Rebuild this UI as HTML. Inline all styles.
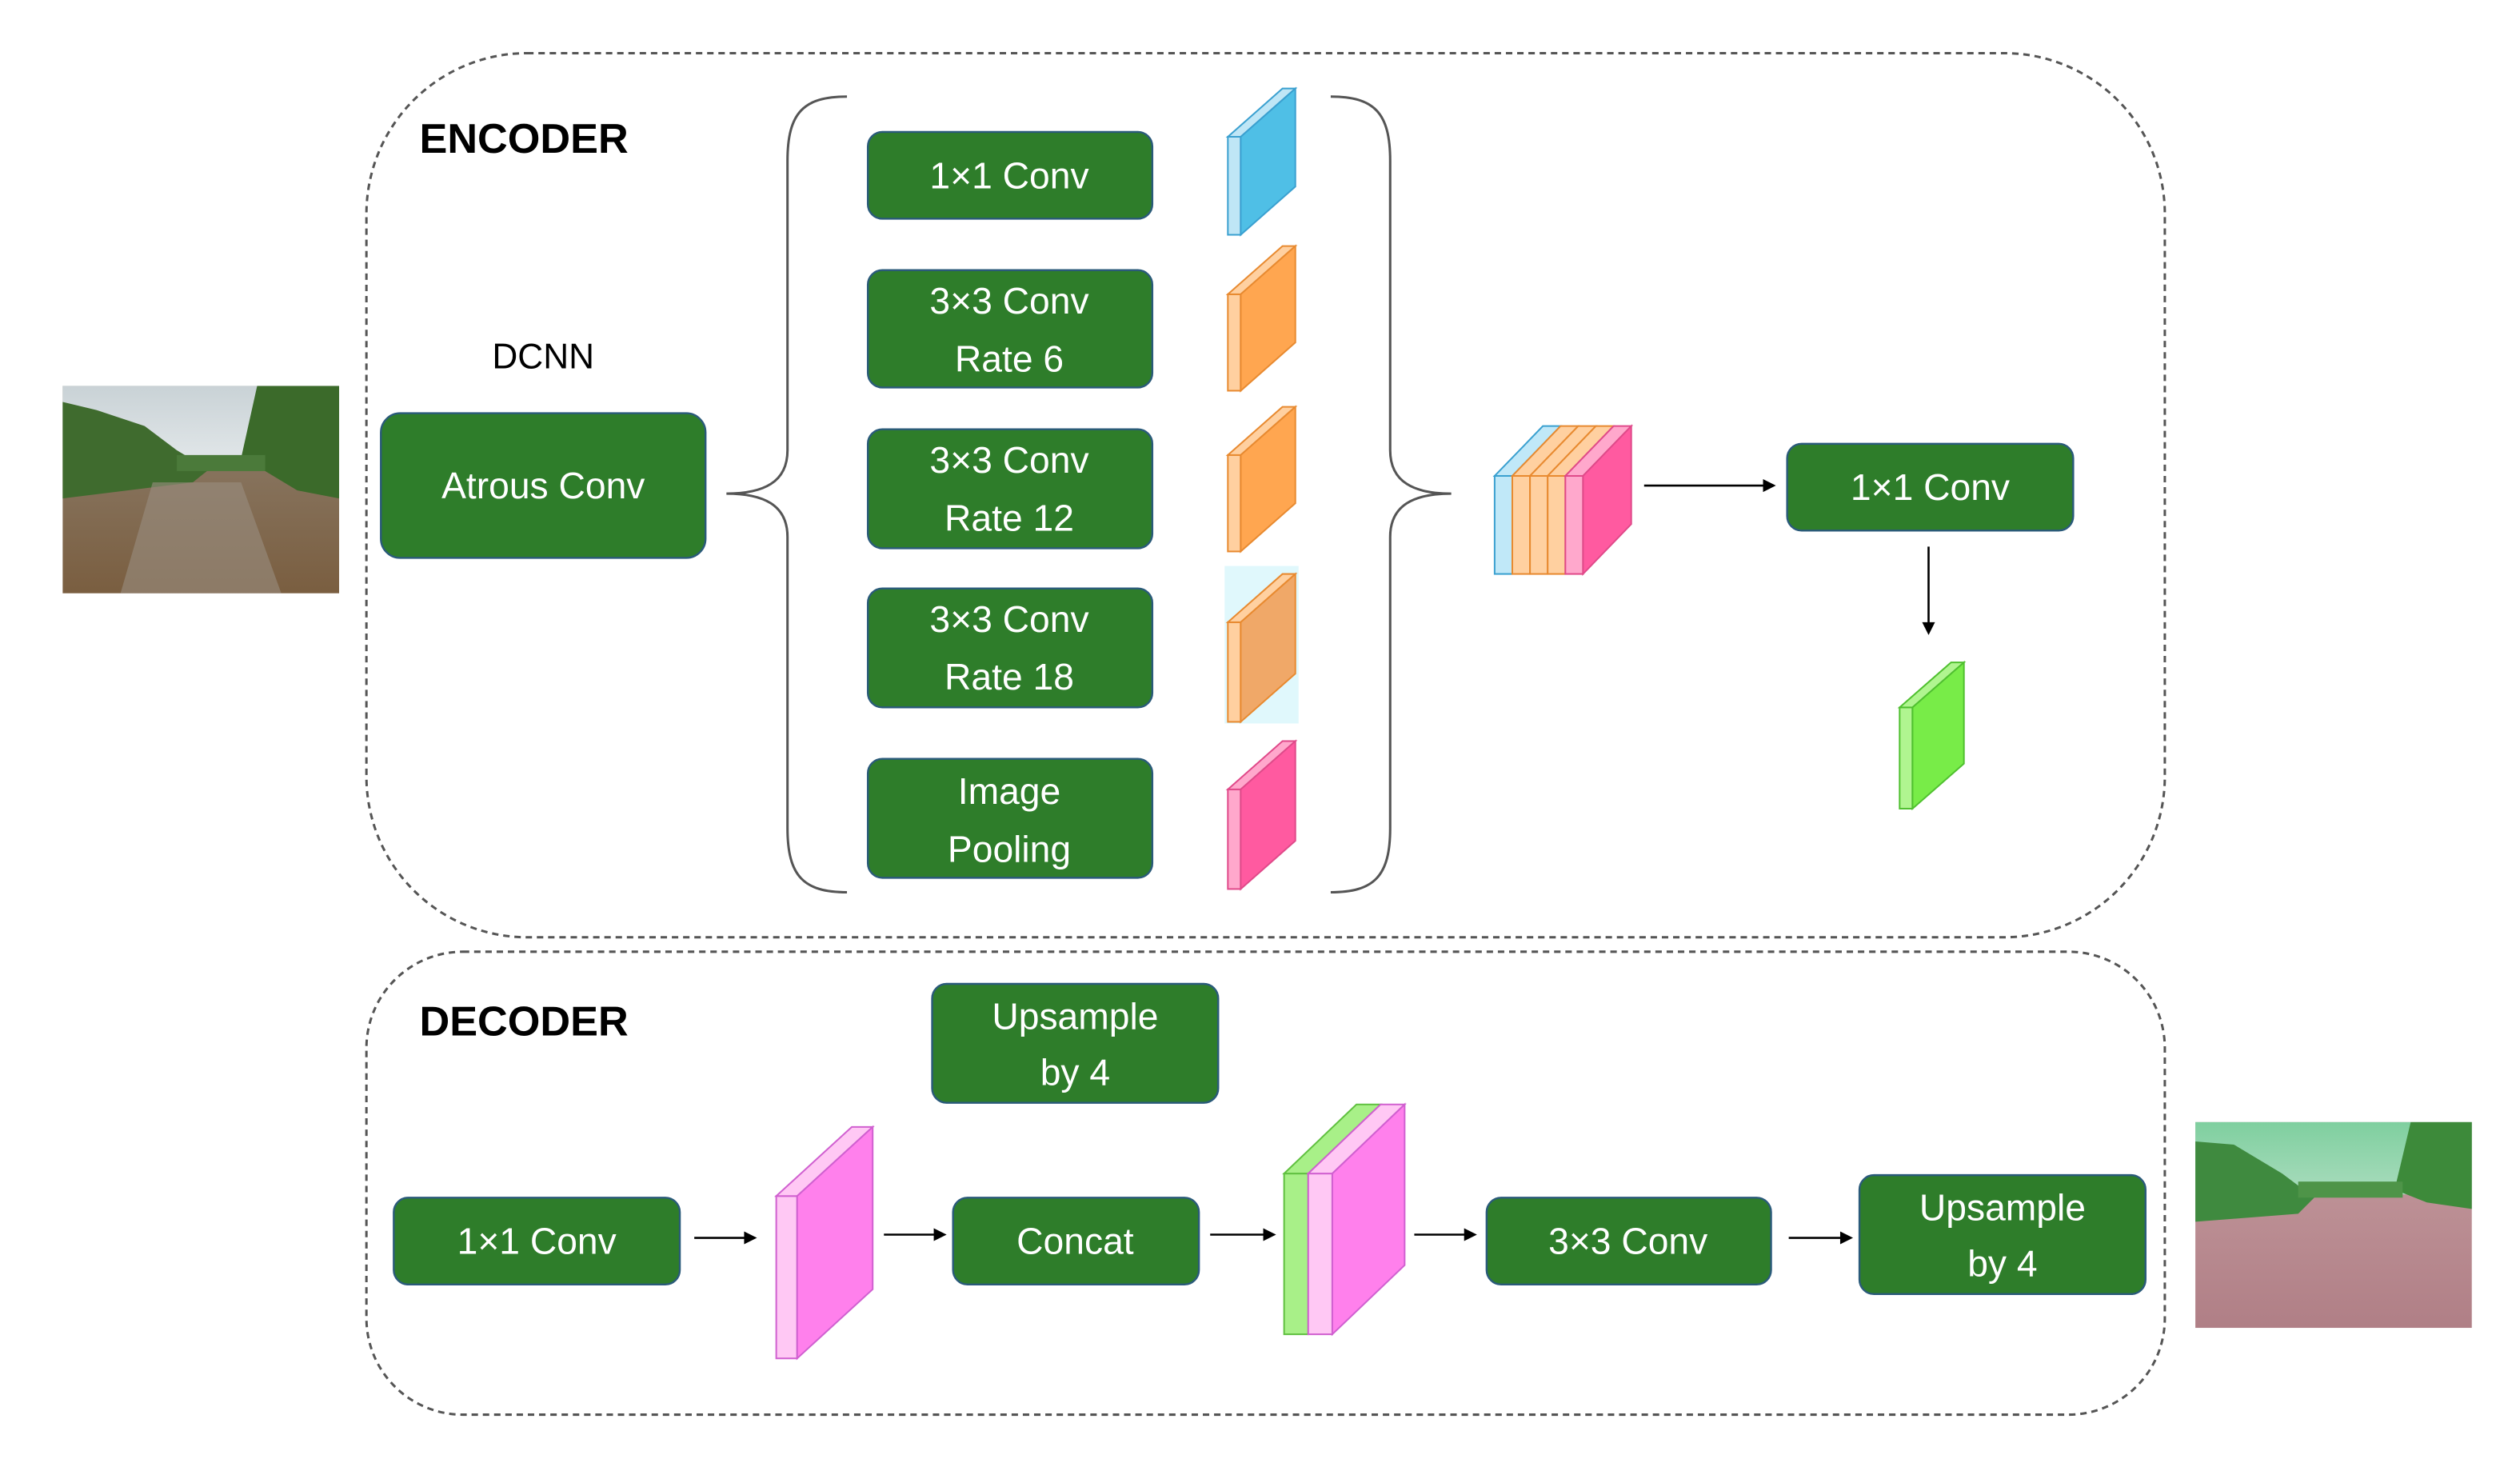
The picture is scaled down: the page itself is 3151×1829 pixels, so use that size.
<!DOCTYPE html>
<html><head><meta charset="utf-8"><style>html,body{margin:0;padding:0;background:#fff}svg{display:block}</style></head>
<body>
<svg width="3151" height="1829" viewBox="0 0 1568 910" xmlns="http://www.w3.org/2000/svg" font-family="Liberation Sans, sans-serif">
<defs>
<linearGradient id="sky" x1="0" y1="0" x2="0" y2="1"><stop offset="0" stop-color="#c9d2d6"/><stop offset="1" stop-color="#e3e8ea"/></linearGradient>
<linearGradient id="water" x1="0" y1="0" x2="0" y2="1"><stop offset="0" stop-color="#8f8170"/><stop offset="1" stop-color="#7a5e40"/></linearGradient>
<linearGradient id="water2" x1="0" y1="0" x2="0" y2="1"><stop offset="0" stop-color="#c49a9e"/><stop offset="1" stop-color="#b07f86"/></linearGradient>
<linearGradient id="sky2" x1="0" y1="0" x2="0" y2="1"><stop offset="0" stop-color="#7fcf9f"/><stop offset="1" stop-color="#a9dcbd"/></linearGradient>
</defs>
<rect width="1568" height="910" fill="#fff"/>
<!-- dashed containers -->
<rect x="228" y="33" width="1119" height="550" rx="100" fill="none" stroke="#555" stroke-width="1.5" stroke-dasharray="4,3"/>
<rect x="228" y="592" width="1119" height="288" rx="60" fill="none" stroke="#555" stroke-width="1.5" stroke-dasharray="4,3"/>
<text x="261" y="95" font-size="26" font-weight="bold" fill="#000">ENCODER</text>
<text x="261" y="644" font-size="26" font-weight="bold" fill="#000">DECODER</text>
<text x="338" y="229" font-size="22" text-anchor="middle" fill="#000">DCNN</text>

<!-- input image -->
<g>
<rect x="39" y="240" width="172" height="129" fill="url(#water)"/>
<rect x="39" y="240" width="172" height="50" fill="url(#sky)"/>
<polygon points="39,250 60,255 90,265 110,280 130,292 120,300 39,310" fill="#3f6b2e"/>
<polygon points="160,240 211,240 211,310 185,305 160,290 150,285" fill="#3b6a2a"/>
<rect x="110" y="283" width="55" height="10" fill="#4b7a3a"/>
<polygon points="95,300 150,300 175,369 75,369" fill="#9a8e80" opacity="0.6"/>
</g>
<!-- output image -->
<g>
<rect x="1366" y="698" width="172" height="128" fill="url(#water2)"/>
<rect x="1366" y="698" width="172" height="45" fill="url(#sky2)"/>
<polygon points="1366,710 1390,712 1420,730 1440,745 1430,755 1366,760" fill="#3f8a3f"/>
<polygon points="1500,698 1538,698 1538,752 1510,748 1490,740" fill="#3d8a3a"/>
<rect x="1430" y="735" width="65" height="10" fill="#4e9448"/>
</g>

<!-- green boxes -->
<g fill="#2e7d2a" stroke="#2a5a7a" stroke-width="1.2">
<rect x="237" y="257" width="202" height="90" rx="12"/>
<rect x="540" y="82" width="177" height="54" rx="9"/>
<rect x="540" y="168" width="177" height="73" rx="9"/>
<rect x="540" y="267" width="177" height="74" rx="9"/>
<rect x="540" y="366" width="177" height="74" rx="9"/>
<rect x="540" y="472" width="177" height="74" rx="9"/>
<rect x="1112" y="276" width="178" height="54" rx="9"/>
<rect x="580" y="612" width="178" height="74" rx="9"/>
<rect x="245" y="745" width="178" height="54" rx="9"/>
<rect x="593" y="745" width="153" height="54" rx="9"/>
<rect x="925" y="745" width="177" height="54" rx="9"/>
<rect x="1157" y="731" width="178" height="74" rx="9"/>
</g>
<g fill="#fff" font-size="23" text-anchor="middle">
<text x="338" y="310">Atrous Conv</text>
<text x="628" y="117">1×1 Conv</text>
<text x="628" y="195">3×3 Conv</text>
<text x="628" y="231">Rate 6</text>
<text x="628" y="294">3×3 Conv</text>
<text x="628" y="330">Rate 12</text>
<text x="628" y="393">3×3 Conv</text>
<text x="628" y="429">Rate 18</text>
<text x="628" y="500">Image</text>
<text x="628" y="536">Pooling</text>
<text x="1201" y="311">1×1 Conv</text>
<text x="669" y="640">Upsample</text>
<text x="669" y="675">by 4</text>
<text x="334" y="780">1×1 Conv</text>
<text x="669" y="780">Concat</text>
<text x="1013" y="780">3×3 Conv</text>
<text x="1246" y="759">Upsample</text>
<text x="1246" y="794">by 4</text>
</g>

<!-- braces -->
<path d="M527,60 C500,60 490,70 490,100 L490,280 C490,300 475,307 452,307 C475,307 490,314 490,334 L490,515 C490,545 500,555 527,555" fill="none" stroke="#555" stroke-width="1.5"/>
<path d="M828,60 C855,60 865,70 865,100 L865,280 C865,300 880,307 903,307 C880,307 865,314 865,334 L865,515 C865,545 855,555 828,555" fill="none" stroke="#555" stroke-width="1.5"/>

<!-- slabs: front strip, top, side -->
<g stroke-width="1">
<!-- blue -->
<g stroke="#3aa0d0"><rect x="764" y="85" width="8" height="61" fill="#bfe6f6"/><polygon points="764,85 798,55 806,55 772,85" fill="#bfe6f6"/><polygon points="772,85 806,55 806,116 772,146" fill="#4fbfe6"/></g>
<!-- orange 6 -->
<g stroke="#e88a30"><rect x="764" y="183" width="8" height="60" fill="#ffd0a0"/><polygon points="764,183 798,153 806,153 772,183" fill="#ffd0a0"/><polygon points="772,183 806,153 806,213 772,243" fill="#ffa650"/></g>
<!-- orange 12 -->
<g stroke="#e88a30"><rect x="764" y="283" width="8" height="60" fill="#ffd0a0"/><polygon points="764,283 798,253 806,253 772,283" fill="#ffd0a0"/><polygon points="772,283 806,253 806,313 772,343" fill="#ffa650"/></g>
<!-- orange 18 -->
<rect x="762" y="352" width="46" height="98" fill="#e0f8fc"/>
<g stroke="#e88a30"><rect x="764" y="387" width="8" height="62" fill="#ffd0a0"/><polygon points="764,387 798,357 806,357 772,387" fill="#ffd0a0"/><polygon points="772,387 806,357 806,419 772,449" fill="#f0a868"/></g>
<!-- pink -->
<g stroke="#e04a8a"><rect x="764" y="491" width="8" height="62" fill="#ffa8cc"/><polygon points="764,491 798,461 806,461 772,491" fill="#ffa8cc"/><polygon points="772,491 806,461 806,523 772,553" fill="#ff5aa0"/></g>
<!-- green encoder output -->
<g stroke="#50c030"><rect x="1182" y="440" width="8" height="63" fill="#b0f590"/><polygon points="1182,440 1214,412 1222,412 1190,440" fill="#b0f590"/><polygon points="1190,440 1222,412 1222,475 1190,503" fill="#78ec48"/></g>
<!-- concat stack -->
<g stroke="#3aa0d0"><polygon points="930,296 960,265 971,265 941,296" fill="#c0e8f8"/><rect x="930" y="296" width="11" height="61" fill="#c0e8f8"/></g>
<g stroke="#e88a30"><polygon points="941,296 971,265 982,265 952,296" fill="#ffd0a0"/><rect x="941" y="296" width="11" height="61" fill="#ffd0a0"/>
<polygon points="952,296 982,265 993,265 963,296" fill="#ffd0a0"/><rect x="952" y="296" width="11" height="61" fill="#ffd0a0"/>
<polygon points="963,296 993,265 1004,265 974,296" fill="#ffd0a0"/><rect x="963" y="296" width="11" height="61" fill="#ffd0a0"/></g>
<g stroke="#e04a8a"><polygon points="974,296 1004,265 1015,265 985,296" fill="#ffa8cc"/><rect x="974" y="296" width="11" height="61" fill="#ffa8cc"/><polygon points="985,296 1015,265 1015,326 985,357" fill="#ff5aa0"/></g>
<!-- decoder pink -->
<g stroke="#d060d0"><rect x="483" y="744" width="13" height="101" fill="#ffc8f4"/><polygon points="483,744 530,701 543,701 496,744" fill="#ffc8f4"/><polygon points="496,744 543,701 543,802 496,845" fill="#ff80ec"/></g>
<!-- decoder green/pink -->
<g stroke="#60c040"><rect x="799" y="730" width="15" height="100" fill="#a8f088"/><polygon points="799,730 844,687 859,687 814,730" fill="#a8f088"/></g>
<g stroke="#d060d0"><rect x="814" y="730" width="15" height="100" fill="#ffc8f4"/><polygon points="814,730 859,687 874,687 829,730" fill="#ffc8f4"/><polygon points="829,730 874,687 874,787 829,830" fill="#ff80ec"/></g>
</g>

<!-- arrows -->
<g stroke="#000" stroke-width="1.3" fill="none">
<line x1="1023" y1="302" x2="1098" y2="302"/>
<line x1="1200" y1="340" x2="1200" y2="388"/>
<line x1="432" y1="770" x2="464" y2="770"/>
<line x1="550" y1="768" x2="582" y2="768"/>
<line x1="753" y1="768" x2="787" y2="768"/>
<line x1="880" y1="768" x2="912" y2="768"/>
<line x1="1113" y1="770" x2="1146" y2="770"/>
</g>
<g fill="#000">
<polygon points="1105,302 1097,298 1097,306"/>
<polygon points="1200,395 1196,387 1204,387"/>
<polygon points="471,770 463,766 463,774"/>
<polygon points="589,768 581,764 581,772"/>
<polygon points="794,768 786,764 786,772"/>
<polygon points="919,768 911,764 911,772"/>
<polygon points="1153,770 1145,766 1145,774"/>
</g>
</svg>
</body></html>
